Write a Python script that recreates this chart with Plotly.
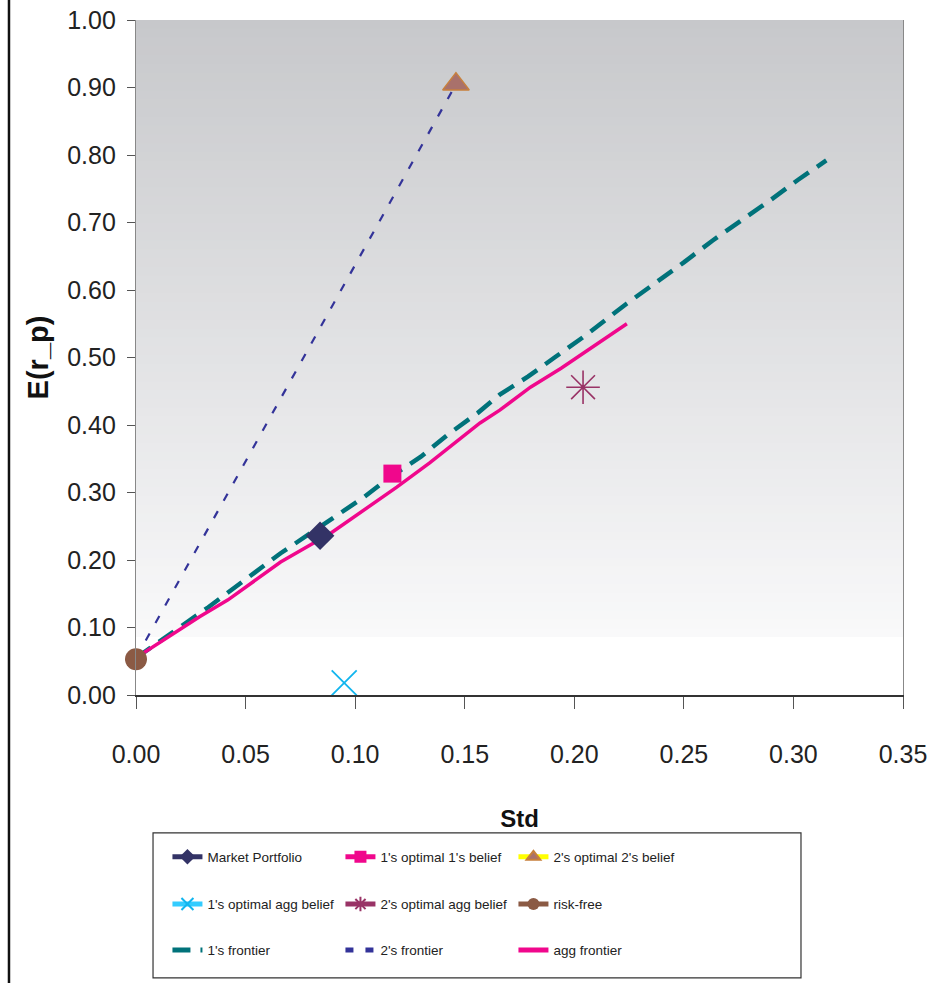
import plotly.graph_objects as go

# ---------------- data ----------------
x_ticks = [0.00, 0.05, 0.10, 0.15, 0.20, 0.25, 0.30, 0.35]
y_ticks = [0.00, 0.10, 0.20, 0.30, 0.40, 0.50, 0.60, 0.70, 0.80, 0.90, 1.00]

front1_x = [0.000, 0.020, 0.033, 0.066, 0.080, 0.092, 0.104, 0.116, 0.130, 0.142, 0.156, 0.166,
            0.179, 0.191, 0.204, 0.224, 0.238, 0.250, 0.263, 0.277, 0.289, 0.302, 0.315]
front1_y = [0.055, 0.100, 0.130, 0.210, 0.240, 0.267, 0.293, 0.323, 0.353, 0.385, 0.418, 0.445,
            0.472, 0.500, 0.530, 0.580, 0.612, 0.641, 0.673, 0.704, 0.732, 0.763, 0.792]

front2_x = [0.000, 0.146]
front2_y = [0.055, 0.905]

agg_x = [0.000, 0.014, 0.029, 0.042, 0.066, 0.089, 0.104, 0.119, 0.134, 0.157, 0.166,
         0.180, 0.194, 0.206, 0.216, 0.224]
agg_y = [0.055, 0.084, 0.116, 0.141, 0.197, 0.240, 0.274, 0.308, 0.344, 0.403, 0.422,
         0.456, 0.484, 0.511, 0.533, 0.550]

market_x, market_y = [0.084], [0.236]
opt11_x, opt11_y = [0.117], [0.328]
opt22_x, opt22_y = [0.146], [0.905]
opt1agg_x, opt1agg_y = [0.095], [0.018]
opt2agg_x, opt2agg_y = [0.204], [0.456]
rf_x, rf_y = [0.000], [0.053]

# ---------------- figure ----------------
FONT = "Liberation Sans, Arial, sans-serif"

fig = go.Figure()

# frontiers (legend3)
fig.add_trace(go.Scatter(x=front1_x, y=front1_y, mode="lines", name="1's frontier",
                         line=dict(color="#00727a", width=4.5, dash="18px,10px"),
                         legend="legend3", cliponaxis=False))
fig.add_trace(go.Scatter(x=front2_x, y=front2_y, mode="lines", name="2's frontier",
                         line=dict(color="#333399", width=2.2, dash="8px,12px"),
                         legend="legend3", cliponaxis=False))
fig.add_trace(go.Scatter(x=agg_x, y=agg_y, mode="lines", name="agg frontier",
                         line=dict(color="#f0078c", width=3.5),
                         legend="legend3", cliponaxis=False))

# points (legend1, legend2)
fig.add_trace(go.Scatter(x=market_x, y=market_y, mode="lines+markers", name="Market Portfolio",
                         line=dict(color="#333366", width=2),
                         marker=dict(symbol="diamond", size=22, color="#333366"),
                         legend="legend", cliponaxis=False))
fig.add_trace(go.Scatter(x=opt11_x, y=opt11_y, mode="lines+markers", name="1's optimal 1's belief",
                         line=dict(color="#f0078c", width=2),
                         marker=dict(symbol="square", size=18, color="#f0078c"),
                         legend="legend", cliponaxis=False))
fig.add_trace(go.Scatter(x=opt22_x, y=opt22_y, mode="lines+markers", name="2's optimal 2's belief",
                         line=dict(color="#ffff00", width=2),
                         marker=dict(symbol="triangle-up", size=23, color="#a9716b",
                                     line=dict(color="#c8803c", width=1.5)),
                         legend="legend", cliponaxis=False))
fig.add_trace(go.Scatter(x=opt1agg_x, y=opt1agg_y, mode="lines+markers", name="1's optimal agg belief",
                         line=dict(color="#33ccff", width=2),
                         marker=dict(symbol="x-thin-open", size=25, color="#11b5ee",
                                     line=dict(color="#11b5ee", width=1.8)),
                         legend="legend2", cliponaxis=False))
fig.add_trace(go.Scatter(x=opt2agg_x, y=opt2agg_y, mode="lines+markers", name="2's optimal agg belief",
                         line=dict(color="#993366", width=2),
                         marker=dict(symbol="asterisk-open", size=28, color="#993366",
                                     line=dict(color="#993366", width=1.6)),
                         legend="legend2", cliponaxis=False))
fig.add_trace(go.Scatter(x=rf_x, y=rf_y, mode="lines+markers", name="risk-free",
                         line=dict(color="#8b5a44", width=2),
                         marker=dict(symbol="circle", size=22, color="#8b5a44"),
                         legend="legend2", cliponaxis=False))

# gradient background (style only)
shapes = []
N = 70
y_lo, y_hi = 0.086, 1.0
c_lo = (249, 249, 250)
c_hi = (199, 200, 203)
for i in range(N):
    t0 = i / N
    t1 = (i + 1) / N
    tm = (t0 + t1) / 2
    col = tuple(round(c_lo[k] + (c_hi[k] - c_lo[k]) * tm) for k in range(3))
    shapes.append(dict(type="rect", xref="paper", yref="y", layer="below",
                       x0=0, x1=1, y0=y_lo + (y_hi - y_lo) * t0, y1=y_lo + (y_hi - y_lo) * t1 + 0.002,
                       fillcolor="rgb(%d,%d,%d)" % col, line=dict(width=0)))
# legend border
shapes.append(dict(type="rect", xref="paper", yref="paper", x0=0.0222, x1=0.867,
                   y0=-0.419, y1=-0.2044, line=dict(color="#333333", width=1.2),
                   fillcolor="rgba(0,0,0,0)"))
# left black edge line
shapes.append(dict(type="line", xref="paper", yref="paper", x0=-0.1656, x1=-0.1656,
                   y0=-0.45, y1=1.05, line=dict(color="#111111", width=2.5)))

leg_common = dict(orientation="h", xanchor="left", yanchor="middle", x=0.041,
                  entrywidth=128, entrywidthmode="pixels", bgcolor="rgba(0,0,0,0)",
                  borderwidth=0, font=dict(family=FONT, size=13.5, color="#222222"),
                  traceorder="normal", itemsizing="constant")

fig.update_layout(
    width=944, height=983,
    margin=dict(l=136, r=41, t=20, b=288, autoexpand=False),
    paper_bgcolor="white", plot_bgcolor="white",
    shapes=shapes,
    showlegend=True,
    legend=dict(y=-0.240, **leg_common),
    legend2=dict(y=-0.310, **leg_common),
    legend3=dict(y=-0.378, **leg_common),
    xaxis=dict(range=[0, 0.35], tickvals=x_ticks, tickformat=".2f",
               showgrid=False, zeroline=False, showline=True, linecolor="#333333", linewidth=1.5,
               ticks="outside", ticklen=12, tickcolor="#555555",
               tickfont=dict(family=FONT, size=25, color="#222222"),
               ticklabelstandoff=24,
               title=dict(text="<b>Std</b>", font=dict(family=FONT, size=24, color="#111111"),
                          standoff=43),
               automargin=False),
    yaxis=dict(range=[0, 1.0], tickvals=y_ticks, tickformat=".2f",
               showgrid=False, zeroline=False, showline=True, linecolor="#888888", linewidth=1.2,
               mirror=True,
               ticks="outside", ticklen=8, tickcolor="#555555",
               tickfont=dict(family=FONT, size=25, color="#222222"),
               ticklabelstandoff=6,
               title=dict(text="<b>E(r_p)</b>", font=dict(family=FONT, size=29, color="#111111"),
                          standoff=10),
               automargin=False),
)

fig.write_html("out.html")
